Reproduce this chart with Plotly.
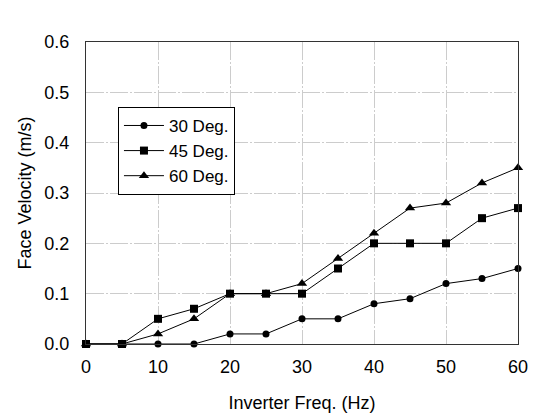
import plotly.graph_objects as go

freq = [0, 5, 10, 15, 20, 25, 30, 35, 40, 45, 50, 55, 60]
deg30 = [0, 0, 0, 0, 0.02, 0.02, 0.05, 0.05, 0.08, 0.09, 0.12, 0.13, 0.15]
deg45 = [0, 0, 0.05, 0.07, 0.10, 0.10, 0.10, 0.15, 0.20, 0.20, 0.20, 0.25, 0.27]
deg60 = [0, 0, 0.02, 0.05, 0.10, 0.10, 0.12, 0.17, 0.22, 0.27, 0.28, 0.32, 0.35]

series = [
    ("30 Deg.", deg30, "circle", 7),
    ("45 Deg.", deg45, "square", 8),
    ("60 Deg.", deg60, "triangle-up", 9),
]

fig = go.Figure()
for name, vals, sym, sz in series:
    fig.add_trace(go.Scatter(
        x=freq, y=vals, name=name, mode="lines+markers",
        line=dict(color="black", width=1),
        marker=dict(symbol=sym, size=sz, color="black"),
        cliponaxis=False,
    ))

font = "Liberation Sans, Arial, sans-serif"
grid_dash = "18px,2px,2px,2px"
fig.update_layout(
    width=536, height=418,
    margin=dict(l=78, r=26, t=34, b=82, autoexpand=False),
    paper_bgcolor="white", plot_bgcolor="white",
    font=dict(family=font, size=18, color="black"),
    showlegend=True,
    legend=dict(x=0.074, y=0.785, xanchor="left", yanchor="top",
                bordercolor="black", borderwidth=1, bgcolor="white",
                font=dict(size=17, family=font), tracegroupgap=0,
                itemwidth=40),
    xaxis=dict(range=[0, 60], dtick=10, tick0=0,
               showgrid=True, gridcolor="#cccccc", griddash=grid_dash, gridwidth=1,
               showline=True, linecolor="#333", linewidth=1, mirror=True,
               ticks="", ticklabelstandoff=6,
               title=dict(text="Inverter Freq. (Hz)", font=dict(size=18), standoff=20),
               tickfont=dict(size=18), zeroline=False, automargin=False),
    yaxis=dict(range=[0, 0.6], dtick=0.1, tickformat=".1f",
               showgrid=True, gridcolor="#cccccc", griddash=grid_dash, gridwidth=1,
               showline=True, linecolor="#333", linewidth=1, mirror=True,
               ticks="", ticklabelstandoff=12,
               title=dict(text="Face Velocity (m/s)", font=dict(size=18), standoff=8),
               tickfont=dict(size=18), zeroline=False, automargin=False),
)
fig.write_html("out.html")
